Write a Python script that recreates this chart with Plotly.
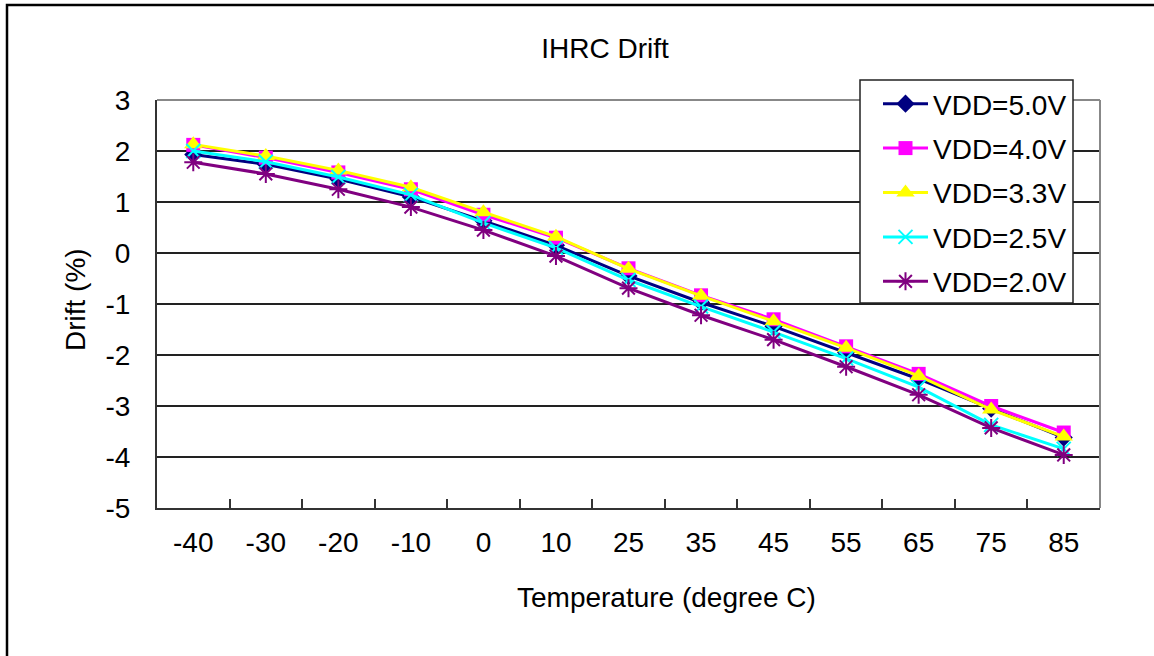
import plotly.graph_objects as go

temps = ["-40", "-30", "-20", "-10", "0", "10", "25", "35", "45", "55", "65", "75", "85"]
vdd50 = [1.93, 1.74, 1.45, 1.10, 0.63, 0.15, -0.45, -0.97, -1.44, -1.95, -2.47, -3.05, -3.62]
vdd40 = [2.12, 1.87, 1.58, 1.25, 0.75, 0.30, -0.30, -0.83, -1.30, -1.83, -2.37, -3.00, -3.52]
vdd33 = [2.13, 1.90, 1.62, 1.29, 0.80, 0.32, -0.31, -0.84, -1.34, -1.86, -2.41, -3.07, -3.60]
vdd25 = [2.00, 1.79, 1.49, 1.14, 0.59, 0.10, -0.53, -1.05, -1.55, -2.07, -2.63, -3.37, -3.84]
vdd20 = [1.78, 1.55, 1.25, 0.90, 0.45, -0.06, -0.69, -1.22, -1.70, -2.23, -2.78, -3.43, -3.96]
series_names = ["VDD=5.0V", "VDD=4.0V", "VDD=3.3V", "VDD=2.5V", "VDD=2.0V"]
y_tickvals = [-5, -4, -3, -2, -1, 0, 1, 2, 3]
y_ticktext = ["-5", "-4", "-3", "-2", "-1", "0", "1", "2", "3"]

W, H = 1154, 656
L, R, T, B = 157, 1100, 100, 508
pw, ph = R - L, B - T

def px(x):
    return (x - L) / pw

def py(y):
    return (B - y) / ph

font = "Liberation Sans, Arial, sans-serif"
FS = 28

styles = [
    dict(color="#000080", symbol="diamond", size=14, lw=None),
    dict(color="#FF00FF", symbol="square", size=14, lw=None),
    dict(color="#FFFF00", symbol="triangle-up", size=16, lw=None),
    dict(color="#00FFFF", symbol="x-thin-open", size=14, lw=2),
    dict(color="#800080", symbol="asterisk-open", size=15, lw=2),
]

fig = go.Figure()
for i, (name, vals, st) in enumerate(zip(series_names, [vdd50, vdd40, vdd33, vdd25, vdd20], styles)):
    marker = dict(symbol=st["symbol"], size=st["size"], color=st["color"])
    if st["lw"]:
        marker["line"] = dict(color=st["color"], width=st["lw"])
    else:
        marker["line"] = dict(width=0)
    fig.add_trace(go.Scatter(
        x=temps, y=vals, name=name, mode="lines+markers",
        line=dict(color=st["color"], width=3),
        marker=marker, legendgroup=f"g{i}",
    ))

fig.update_layout(
    width=W, height=H,
    margin=dict(l=L, r=W - R, t=T, b=H - B, autoexpand=False),
    paper_bgcolor="white", plot_bgcolor="white",
    font=dict(family=font, size=FS, color="black"),
    title=dict(text="IHRC Drift", x=px(605), xref="paper", xanchor="center",
               y=1 - 48 / H, yref="container", yanchor="middle",
               font=dict(size=FS, color="black")),
    showlegend=True,
    legend=dict(x=px(878), y=py(79), xanchor="left", yanchor="top",
                bgcolor="rgba(0,0,0,0)", borderwidth=0, itemwidth=45,
                font=dict(size=FS, color="black"), tracegroupgap=5,
                traceorder="grouped"),
    xaxis=dict(type="category", categoryorder="array", categoryarray=temps,
               range=[-0.5, len(temps) - 0.5], autorange=False,
               showgrid=False, showline=True, linecolor="#333", linewidth=2,
               ticks="inside", tickson="boundaries", ticklen=9, tickwidth=1.5, tickcolor="#333",
               ticklabelstandoff=8, tickfont=dict(size=FS), zeroline=False),
    yaxis=dict(range=[-5, 3], autorange=False, tickvals=y_tickvals, ticktext=y_ticktext,
               showgrid=True, gridcolor="#222", gridwidth=1.5,
               showline=True, linecolor="#333", linewidth=2, ticks="", zeroline=False,
               ticklabelstandoff=19, tickfont=dict(size=FS)),
    annotations=[
        dict(text="Temperature (degree C)", x=px(666), y=py(597), xref="paper", yref="paper",
             xanchor="center", yanchor="middle", showarrow=False, font=dict(size=FS)),
        dict(text="Drift (%)", x=px(75), y=py(300), xref="paper", yref="paper",
             xanchor="center", yanchor="middle", textangle=-90, showarrow=False, font=dict(size=FS)),
    ],
    shapes=[
        dict(type="line", xref="paper", yref="paper", x0=0, x1=1, y0=1, y1=1,
             line=dict(color="#888", width=2), layer="above"),
        dict(type="line", xref="paper", yref="paper", x0=1, x1=1, y0=0, y1=1,
             line=dict(color="#888", width=2), layer="above"),
        dict(type="rect", xref="paper", yref="paper", x0=px(860), x1=px(1073), y0=py(80), y1=py(303),
             line=dict(color="#222", width=1.5), fillcolor="white", layer="above"),
        dict(type="rect", xref="paper", yref="paper", x0=px(7), x1=px(1170), y0=py(5), y1=py(680),
             line=dict(color="black", width=2.5), fillcolor="rgba(0,0,0,0)", layer="above"),
    ],
)

fig.write_html("out.html")
